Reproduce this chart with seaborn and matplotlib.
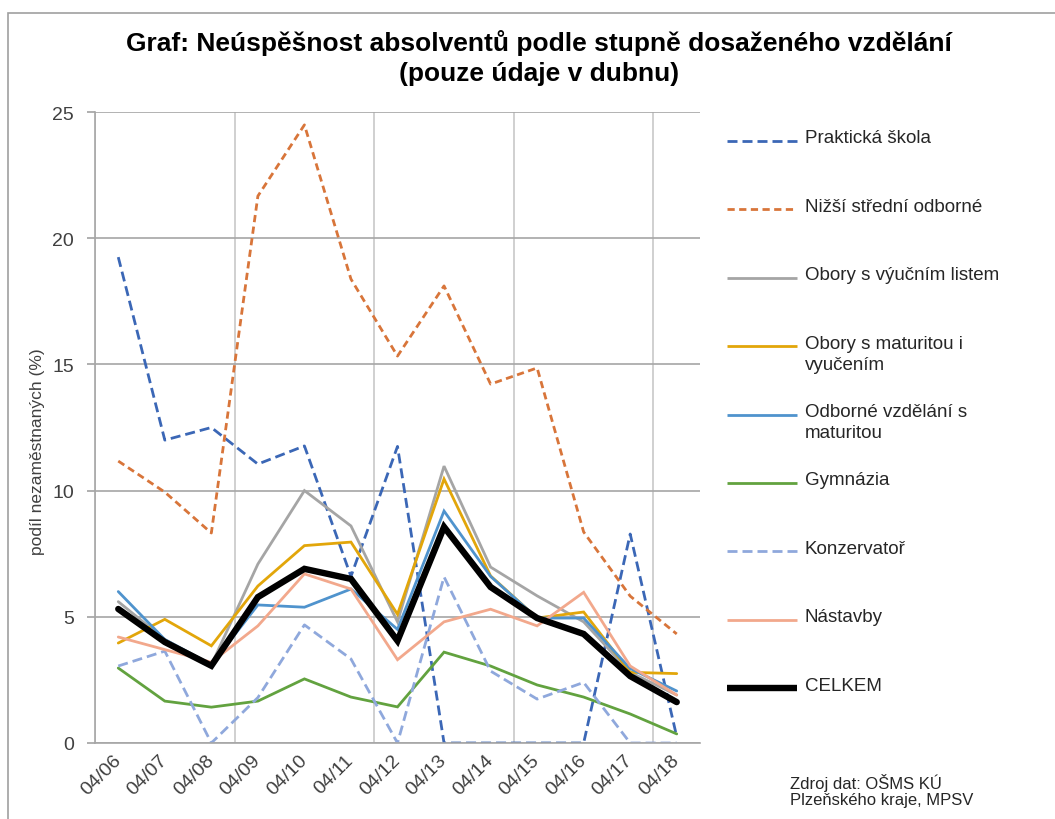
import numpy as np
import pandas as pd
import seaborn as sns
import matplotlib.pyplot as plt
from matplotlib.lines import Line2D
from matplotlib.patches import Rectangle

# data (share of unemployed graduates, %)
months = ['04/06', '04/07', '04/08', '04/09', '04/10', '04/11', '04/12',
          '04/13', '04/14', '04/15', '04/16', '04/17', '04/18']

prakticka = [19.25, 12.0, 12.5, 11.05, 11.77, 6.6, 11.75, 0, 0, 0, 0, 8.28, 0.25]
nizsi = [11.17, 9.94, 8.32, 21.67, 24.49, 18.38, 15.33, 18.11, 14.22, 14.86, 8.36, 5.82, 4.32]
vyucni = [5.6, 4.1, 3.1, 7.09, 10.0, 8.6, 4.8, 10.97, 6.97, 5.83, 4.8, 2.8, 1.9]
mat_vyuc = [3.96, 4.9, 3.85, 6.22, 7.82, 7.96, 5.1, 10.46, 6.62, 4.95, 5.19, 2.8, 2.75]
odborne = [6.0, 4.1, 3.1, 5.47, 5.38, 6.1, 4.5, 9.19, 6.6, 4.95, 4.95, 2.95, 2.06]
gymnazia = [2.97, 1.66, 1.42, 1.66, 2.54, 1.82, 1.43, 3.6, 3.05, 2.3, 1.82, 1.15, 0.36]
konzervator = [3.05, 3.64, 0, 1.8, 4.68, 3.33, 0, 6.58, 2.85, 1.74, 2.4, 0, 0]
nastavby = [4.2, 3.7, 3.2, 4.64, 6.7, 6.1, 3.3, 4.8, 5.3, 4.64, 5.97, 3.05, 1.9]
celkem = [5.31, 4.0, 3.06, 5.78, 6.9, 6.5, 4.05, 8.56, 6.18, 4.95, 4.32, 2.65, 1.62]

series_names = ['Praktická škola', 'Nižší střední odborné', 'Obory s výučním listem',
                'Obory s maturitou i vyučením', 'Odborné vzdělání s maturitou',
                'Gymnázia', 'Konzervatoř', 'Nástavby', 'CELKEM']
legend_labels = ['Praktická škola', 'Nižší střední odborné', 'Obory s výučním listem',
                 'Obory s maturitou i\nvyučením', 'Odborné vzdělání s\nmaturitou',
                 'Gymnázia', 'Konzervatoř', 'Nástavby', 'CELKEM']
series_values = [prakticka, nizsi, vyucni, mat_vyuc, odborne,
                 gymnazia, konzervator, nastavby, celkem]

styles = [
    dict(color='#3B67B6', lw=2.0, dashes=(3.6, 1.8)),
    dict(color='#D8753A', lw=2.0, dashes=(2.6, 1.6)),
    dict(color='#A5A5A5', lw=2.0, dashes=None),
    dict(color='#E2A60A', lw=2.0, dashes=None),
    dict(color='#4F93CD', lw=2.0, dashes=None),
    dict(color='#62A23F', lw=2.0, dashes=None),
    dict(color='#8FA8DC', lw=2.0, dashes=(3.6, 1.8)),
    dict(color='#F2A88C', lw=2.0, dashes=None),
    dict(color='#000000', lw=4.6, dashes=None),
]

sns.set_theme(style='white')
plt.rcParams['font.family'] = ['Liberation Sans', 'DejaVu Sans']

W, H = 1055, 820
fig = plt.figure(figsize=(W / 100, H / 100), dpi=100)
ax = fig.add_axes([95 / W, 1 - 744 / H, 605 / W, 631 / H])

for name, vals, st in zip(series_names, series_values, styles):
    df = pd.DataFrame({'month': months, 'value': vals})
    kw = dict(color=st['color'], lw=st['lw'], solid_joinstyle='miter')
    if st['dashes'] is not None:
        kw['dashes'] = st['dashes']
    sns.lineplot(data=df, x='month', y='value', ax=ax, label=name, **kw)

ax.get_legend().remove()
ax.set_ylim(0, 25)
ax.set_xlim(-0.5, len(months) - 0.5)
ax.set_yticks(np.arange(0, 26, 5))
ax.set_xticks(np.arange(len(months)))
ax.set_xticks(np.arange(-0.5, len(months), 3), minor=True)
ax.set_xticklabels(months, rotation=45, ha='right', va='center',
                   rotation_mode='anchor', fontsize=14, color='#404040')
ax.tick_params(axis='x', which='major', length=0, pad=10)
ax.tick_params(axis='x', which='minor', length=5, color='#A6A6A6', direction='out')
ax.tick_params(axis='y', length=6, color='#A6A6A6', direction='out',
               labelsize=14, labelcolor='#404040', pad=9, left=True)
ax.set_xlabel('')
ax.set_ylabel('podíl nezaměstnaných (%)', fontsize=12.5, color='#404040')
ax.yaxis.set_label_coords(-0.082, 0.464)

ax.grid(axis='y', which='major', color='#A6A6A6', lw=1.2)
ax.grid(axis='x', which='minor', color='#C8C8C8', lw=1.2)
ax.set_axisbelow(True)
for s in ['top', 'right']:
    ax.spines[s].set_visible(False)
for s in ['left', 'bottom']:
    ax.spines[s].set_color('#A6A6A6')
    ax.spines[s].set_linewidth(1.2)

# title
fig.text(539 / W, 1 - 58 / H, 'Graf: Neúspěšnost absolventů podle stupně dosaženého vzdělání\n(pouze údaje v dubnu)',
         ha='center', va='center', fontsize=19, fontweight='bold', color='#000000',
         linespacing=1.35, transform=fig.transFigure)

# legend, handles aligned with the first line of each label
y0, step = 142, 68.4
for i, (lab, st) in enumerate(zip(legend_labels, styles)):
    y = 1 - (y0 + i * step) / H
    ln = Line2D([727 / W, 797 / W], [y, y], transform=fig.transFigure,
                color=st['color'], lw=st['lw'], solid_capstyle='butt')
    if st['dashes'] is not None:
        ln.set_dashes(st['dashes'])
    fig.add_artist(ln)
    fig.text(805 / W, y + 11.5 / H, lab, ha='left', va='top', fontsize=13.5,
             color='#262626', linespacing=1.33)

fig.text(790 / W, 1 - 774 / H, 'Zdroj dat: OŠMS KÚ\nPlzeňského kraje, MPSV',
         ha='left', va='top', fontsize=12, color='#262626', linespacing=1.1)

fig.add_artist(Rectangle((8 / W, -0.02), 1.0, 1 - 14 / H + 0.02, transform=fig.transFigure,
                         fill=False, edgecolor='#A0A0A0', lw=1.2))

fig.savefig('out.png', dpi=100)
